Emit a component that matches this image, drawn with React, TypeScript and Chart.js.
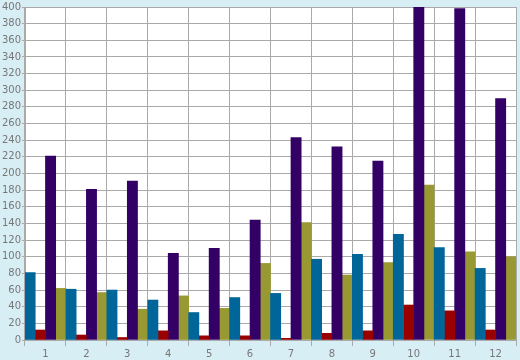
import React, { useEffect, useRef } from "react";
import { Chart, registerables } from "chart.js";

Chart.register(...registerables);

const categories = ["1", "2", "3", "4", "5", "6", "7", "8", "9", "10", "11", "12"];
const blueSeries = [81, 61, 60, 48, 33, 51, 56, 97, 103, 127, 111, 86];
const redSeries = [12, 6, 3, 11, 5, 5, 2, 8, 11, 42, 35, 12];
const purpleSeries = [221, 181, 191, 104, 110, 144, 243, 232, 215, 400, 398, 290];
const oliveSeries = [62, 57, 37, 53, 38, 92, 141, 78, 93, 186, 106, 100];

const BG = "#d8eef5";
const GRID = "#aaaaaa";
const TEXT = "#777777";

const bgPlugin = {
  id: "bgPlugin",
  beforeDraw(chart: any) {
    const { ctx, chartArea } = chart;
    ctx.save();
    ctx.fillStyle = BG;
    ctx.fillRect(0, 0, chart.width, chart.height);
    ctx.fillStyle = "#ffffff";
    ctx.fillRect(chartArea.left, chartArea.top, chartArea.right - chartArea.left, chartArea.bottom - chartArea.top);
    ctx.restore();
  },
};

export default function App() {
  const ref = useRef<HTMLCanvasElement>(null);
  useEffect(() => {
    document.body.style.margin = "0";
    const font = { family: "'DejaVu Sans', sans-serif", size: 10 };
    const chart = new Chart(ref.current!, {
      type: "bar",
      data: {
        labels: categories,
        datasets: [
          { data: blueSeries, backgroundColor: "#006699" },
          { data: redSeries, backgroundColor: "#990000" },
          { data: purpleSeries, backgroundColor: "#330066" },
          { data: oliveSeries, backgroundColor: "#999933" },
        ],
      },
      options: {
        responsive: false,
        animation: false,
        layout: { padding: { top: 5, right: 4, left: 0, bottom: 0 } },
        datasets: { bar: { categoryPercentage: 1, barPercentage: 1, borderWidth: 0 } },
        plugins: { legend: { display: false }, tooltip: { enabled: false } },
        scales: {
          x: {
            offset: true,
            grid: { offset: true, color: GRID, lineWidth: 1, tickLength: 6 },
            border: { color: GRID },
            ticks: { color: TEXT, font, padding: 2, maxRotation: 0 },
            afterFit(scale: any) { scale.height = 20; },
          },
          y: {
            min: 0,
            max: 400,
            ticks: { stepSize: 20, color: TEXT, font, padding: 1 },
            grid: { color: GRID, lineWidth: 1, tickLength: 3 },
            border: { color: GRID },
            afterFit(scale: any) { scale.width = 25; },
          },
        },
      },
      plugins: [bgPlugin],
    });
    return () => chart.destroy();
  }, []);
  return <canvas ref={ref} width={520} height={360} style={{ display: "block" }} />;
}
